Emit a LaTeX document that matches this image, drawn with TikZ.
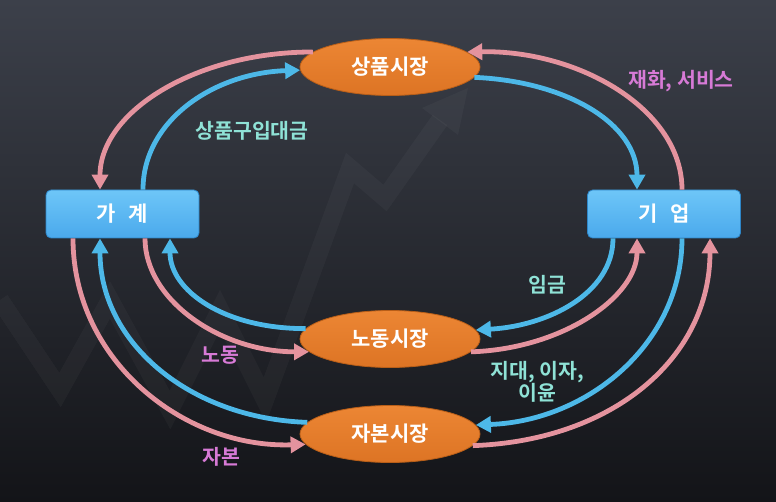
\documentclass[tikz,border=0pt]{standalone}
\usepackage{fontspec}
\setmainfont{Noto Sans CJK KR}[BoldFont={* Bold}]
\usetikzlibrary{arrows.meta,shapes.geometric,calc}
\definecolor{pinkc}{HTML}{E4939E}
\definecolor{bluec}{HTML}{4DB8E8}
\definecolor{boxtop}{HTML}{6EC6F8}
\definecolor{boxbot}{HTML}{4AA9EC}
\definecolor{boxbd}{HTML}{2E86C8}
\definecolor{ortop}{HTML}{EC8634}
\definecolor{orbot}{HTML}{DD7424}
\definecolor{orbd}{HTML}{B85E18}
\definecolor{cyanlab}{HTML}{8FE2D6}
\definecolor{maglab}{HTML}{D77AD6}
\definecolor{bgtop}{HTML}{3C404A}
\definecolor{bgbot}{HTML}{131418}
\tikzset{
  agent/.style={draw=boxbd, line width=0.8pt, rounded corners=5pt, top color=boxtop, bottom color=boxbot,
    minimum width=153pt, minimum height=48pt, inner sep=0pt, text=white, font=\bfseries\fontsize{21}{24}\selectfont},
  market/.style={ellipse, draw=orbd, line width=0.8pt, top color=ortop, bottom color=orbot,
    minimum width=180pt, minimum height=57pt, inner sep=0pt, text=white, font=\bfseries\fontsize{21}{24}\selectfont},
  pflow/.style={draw=pinkc, line width=4.8pt, -{Triangle[length=15pt,width=16pt]}},
  bflow/.style={draw=bluec, line width=4.8pt, -{Triangle[length=15pt,width=16pt]}},
  clab/.style={text=cyanlab, font=\bfseries\fontsize{20.5}{21}\selectfont, align=center},
  mlab/.style={text=maglab, font=\bfseries\fontsize{20.5}{21}\selectfont, align=center},
}
\begin{document}
\begin{tikzpicture}[x=1pt, y=-1pt]
\useasboundingbox (0,0) rectangle (776,502);
\shade[top color=bgtop, bottom color=bgbot] (0,0) rectangle (776,502);
% faint background chart
\draw[white, opacity=0.03, line width=18pt, line join=miter]
  (0,300) -- (60,390) -- (110,300) -- (170,410) -- (220,310) -- (265,400) -- (350,168) -- (385,198) -- (440,120);
\fill[white, opacity=0.03] (422,108) -- (468,88) -- (458,135) -- cycle;

\node[agent] (hh) at (122.5,214) {가\hspace{0.6em}계};
\node[agent] (fi) at (664,214) {기\hspace{0.6em}업};
\node[market] (sp) at (390,67) {상품시장};
\node[market] (lm) at (390,339) {노동시장};
\node[market] (km) at (390,434) {자본시장};

% goods market
\draw[pflow] (sp.169) .. controls +(-117,0) and +(0,-78) .. ([xshift=-22.5pt]hh.north);
\draw[bflow] ([xshift=20.5pt]hh.north) .. controls +(0,-68) and +(-88,3) .. (sp.182);
\draw[bflow] (sp.-7) .. controls +(92,4) and +(0,-66) .. ([xshift=-27pt]fi.north);
\draw[pflow] ([xshift=18pt]fi.north) .. controls +(0,-80) and +(112,-2) .. (sp.11);

% labour market
\draw[bflow] ([xshift=-51pt]fi.south) .. controls +(0,55) and +(72,-4) .. (lm.6);
\draw[pflow] (lm.-9) .. controls +(92,-3) and +(0,58) .. ([xshift=-27pt]fi.south);
\draw[pflow] ([xshift=22.5pt]hh.south) .. controls +(0,62) and +(-88,0) .. (lm.189);
\draw[bflow] (lm.173) .. controls +(-82,0) and +(0,52) .. ([xshift=47.5pt]hh.south);

% capital market
\draw[bflow] ([xshift=18pt]fi.south) .. controls +(0,105) and +(112,-4) .. (km.6);
\draw[pflow] (km.-8) .. controls +(142,-5) and +(0,118) .. ([xshift=46pt]fi.south);
\draw[pflow] ([xshift=-49.5pt]hh.south) .. controls +(0,122) and +(-122,4) .. (km.187);
\draw[bflow] (km.172) .. controls +(-118,-4) and +(0,104) .. ([xshift=-22.5pt]hh.south);

% labels
\node[clab] (l1) at (252,131) {상품구입대금};
\node[mlab] (l2) at (681,81) {재화, 서비스};
\node[clab] (l3) at (547,285) {임금};
\node[clab] (l4) at (537,382) {지대, 이자,\\이윤};
\node[mlab] (l5) at (220,355) {노동};
\node[mlab] (l6) at (221,457) {자본};
\end{tikzpicture}
\end{document}
